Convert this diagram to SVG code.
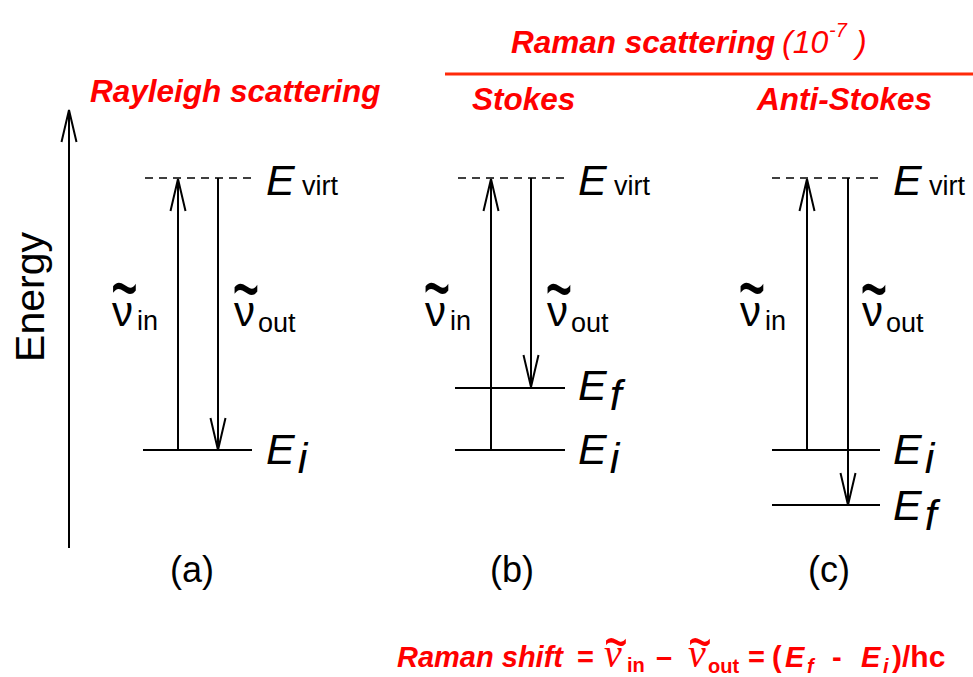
<svg xmlns="http://www.w3.org/2000/svg" width="973" height="677" viewBox="0 0 973 677">
<style>
.t{font-family:"Liberation Sans",Arial,sans-serif;fill:#000}
.E{font-family:"Liberation Sans",Arial,sans-serif;font-style:italic;font-size:43px;fill:#000}
.nu{font-family:"Liberation Sans",Arial,sans-serif;font-size:42px;fill:#000}
.sub{font-family:"Liberation Sans",Arial,sans-serif;font-size:27px;fill:#000}
.tl{font-family:"Liberation Sans",Arial,sans-serif;font-size:46px;fill:#000;text-anchor:middle}
.red{font-family:"Liberation Sans",Arial,sans-serif;fill:#ff0000;font-weight:bold;font-style:italic}
.redn{font-family:"Liberation Sans",Arial,sans-serif;fill:#ff0000;font-weight:bold;font-style:normal}
.redi{font-family:"Liberation Sans",Arial,sans-serif;fill:#ff0000;font-weight:normal;font-style:italic}
.rnu{font-family:"Liberation Serif","Times New Roman",serif;font-style:italic;font-size:40px;fill:#ff0000}
.rtl{font-family:"Liberation Sans",Arial,sans-serif;font-size:40px;fill:#ff0000;text-anchor:middle}
.lv{stroke:#000;stroke-width:2;fill:none}
.dash{stroke:#000;stroke-width:1.6;stroke-dasharray:8 6;fill:none}
.arr{stroke:#000;stroke-width:2;fill:none;marker-end:url(#ah)}
.pl{font-family:"Liberation Sans",Arial,sans-serif;font-size:36px;fill:#000;text-anchor:middle}
</style>
<defs>
<marker id="ah" markerUnits="userSpaceOnUse" orient="auto" refX="0" refY="0" markerWidth="40" markerHeight="20" viewBox="-36 -10 40 20" overflow="visible">
<path d="M-32,-7.5 L0,0 L-32,7.5" fill="none" stroke="#000" stroke-width="2"/>
</marker>
</defs>
<rect width="973" height="677" fill="#fff"/>

<g id="axis">
<line class="arr" x1="69" y1="548" x2="69" y2="110"/>
<text class="t" font-size="41" text-anchor="middle" transform="translate(44,297) rotate(-90)">Energy</text>
</g>

<g id="titles">
<text class="red" font-size="31.5" x="90" y="102">Rayleigh scattering</text>
<text class="red" font-size="31.5" x="511" y="53">Raman scattering</text>
<text class="redi" font-size="32" x="782" y="53">(10</text>
<text class="redi" font-size="20" x="829" y="37">-7</text>
<text class="redi" font-size="32" x="856" y="53">)</text>
<line x1="445" y1="74" x2="973" y2="74" stroke="#ff2a0a" stroke-width="3"/>
<text class="red" font-size="31.5" x="472" y="110">Stokes</text>
<text class="red" font-size="31.5" x="757" y="110">Anti-Stokes</text>
</g>

<g id="levels-a">
<line class="dash" x1="145" y1="178" x2="252" y2="178"/>
<line class="lv" x1="143" y1="450" x2="252" y2="450"/>
<text class="E" x="266" y="195">E</text><text class="sub" x="302" y="195">virt</text>
<text class="E" x="266" y="464">E<tspan dy="9" dx="3">i</tspan></text>
<text class="pl" x="192" y="582">(a)</text>
</g>
<g id="levels-b">
<line class="dash" x1="458" y1="178" x2="565" y2="178"/>
<line class="lv" x1="455" y1="388" x2="565" y2="388"/>
<line class="lv" x1="455" y1="450" x2="565" y2="450"/>
<text class="E" x="578" y="195">E</text><text class="sub" x="614" y="195">virt</text>
<text class="E" x="578" y="400">E<tspan dy="10" dx="3">f</tspan></text>
<text class="E" x="578" y="464">E<tspan dy="9" dx="3">i</tspan></text>
<text class="pl" x="512" y="582">(b)</text>
</g>
<g id="levels-c">
<line class="dash" x1="772" y1="178" x2="880" y2="178"/>
<line class="lv" x1="772" y1="450" x2="880" y2="450"/>
<line class="lv" x1="772" y1="505" x2="880" y2="505"/>
<text class="E" x="893" y="195">E</text><text class="sub" x="929" y="195">virt</text>
<text class="E" x="893" y="464">E<tspan dy="9" dx="3">i</tspan></text>
<text class="E" x="893" y="520">E<tspan dy="10" dx="3">f</tspan></text>
<text class="pl" x="829" y="582">(c)</text>
</g>

<g id="connectors">
<line class="arr" x1="178" y1="450" x2="178" y2="179"/>
<line class="arr" x1="218" y1="178" x2="218" y2="450"/>
<line class="arr" x1="491" y1="450" x2="491" y2="179"/>
<line class="arr" x1="531" y1="178" x2="531" y2="387"/>
<line class="arr" x1="807" y1="450" x2="807" y2="179"/>
<line class="arr" x1="848" y1="178" x2="848" y2="505"/>
</g>

<g id="nu-labels">
<text class="nu" x="112" y="326">ν</text><text class="sub" x="137" y="330">in</text>
<text class="tl" transform="translate(124.5,319) scale(1,2)">~</text>
<text class="nu" x="234" y="326">ν</text><text class="sub" x="258" y="332">out</text>
<text class="tl" transform="translate(246,320) scale(1,2)">~</text>
<text class="nu" x="425" y="326">ν</text><text class="sub" x="450" y="330">in</text>
<text class="tl" transform="translate(437,319) scale(1,2)">~</text>
<text class="nu" x="547" y="326">ν</text><text class="sub" x="571" y="332">out</text>
<text class="tl" transform="translate(559,320) scale(1,2)">~</text>
<text class="nu" x="740" y="326">ν</text><text class="sub" x="765" y="330">in</text>
<text class="tl" transform="translate(752,319) scale(1,2)">~</text>
<text class="nu" x="862" y="326">ν</text><text class="sub" x="886" y="332">out</text>
<text class="tl" transform="translate(874,320) scale(1,2)">~</text>
</g>

<g id="formula">
<text class="red" font-size="29" x="397" y="667">Raman shift</text>
<text class="redn" font-size="29" x="577" y="667">=</text>
<text class="rnu" x="604" y="667">ν</text>
<text class="rtl" transform="translate(616,664) scale(1,1.6)">~</text>
<text class="redn" font-size="20" x="627" y="672">in</text>
<text class="redn" font-size="29" x="656" y="667">–</text>
<text class="rnu" x="688" y="667">ν</text>
<text class="rtl" transform="translate(700,664) scale(1,1.6)">~</text>
<text class="redn" font-size="20" x="708" y="673">out</text>
<text class="redn" font-size="29" x="748" y="667">=</text>
<text class="redn" font-size="29" x="772" y="667">(</text>
<text class="red" font-size="29" x="785" y="667">E</text>
<text class="red" font-size="20" x="807" y="673">f</text>
<text class="redn" font-size="29" x="832" y="667">-</text>
<text class="red" font-size="29" x="861" y="667">E</text>
<text class="red" font-size="20" x="883" y="673">i</text>
<text class="redn" font-size="30" x="892" y="667">)/hc</text>
</g>
</svg>
